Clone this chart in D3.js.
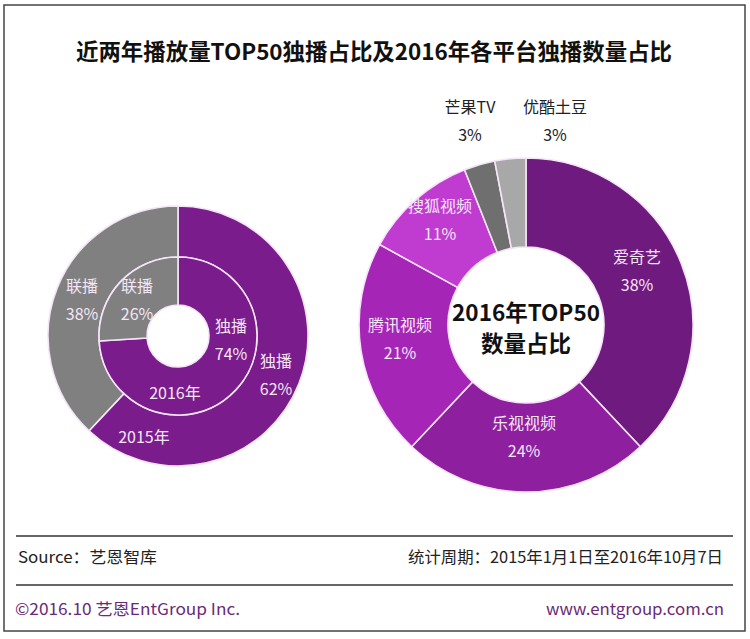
<!DOCTYPE html>
<html>
<head>
<meta charset="utf-8">
<script src="https://cdn.jsdelivr.net/npm/d3@7"></script>
<style>
  html, body { margin: 0; padding: 0; background: #fff; }
  svg text { font-family: "Noto Sans CJK SC", "Noto Sans", sans-serif; }
</style>
</head>
<body>
<div id="chart"></div>
<script>
// data
var typeLabels = ["独播", "联播"],
    share2015 = [62, 38],
    share2016 = [74, 26],
    platforms = ["爱奇艺", "乐视视频", "腾讯视频", "搜狐视频", "芒果TV", "优酷土豆"],
    platformShare = [38, 24, 21, 11, 3, 3];

var w = 750, h = 639;

var typeColors = ["#7a1c8b", "#808080"],
    platColors = ["#6f1a7e", "#8e1f9f", "#a526b6", "#c03bd0", "#6f6f6f", "#a8a8a8"];

var svg = d3.select("#chart").append("svg")
    .attr("width", w)
    .attr("height", h);

// frame
svg.append("rect")
    .attr("x", 4).attr("y", 5)
    .attr("width", 741).attr("height", 626)
    .attr("fill", "none")
    .attr("stroke", "#444")
    .attr("stroke-width", 1.5);

svg.append("text")
    .attr("x", 374).attr("y", 60)
    .attr("text-anchor", "middle")
    .attr("font-size", 22.5)
    .attr("font-weight", "bold")
    .attr("fill", "#111")
    .attr("textLength", 596)
    .attr("lengthAdjust", "spacingAndGlyphs")
    .text("近两年播放量TOP50独播占比及2016年各平台独播数量占比");

var pie = d3.pie().sort(null).value(function(d) { return d; });

// left: two rings, 2015 outside, 2016 inside
var left = svg.append("g").attr("transform", "translate(178,336)");

function ring(g, values, r0, r1, colors) {
    var arc = d3.arc().innerRadius(r0).outerRadius(r1);
    g.selectAll(null)
        .data(pie(values))
        .enter().append("path")
        .attr("d", arc)
        .attr("fill", function(d, i) { return colors[i]; })
        .attr("stroke", "#f6e4f8")
        .attr("stroke-width", 1.6);
    return arc;
}

ring(left, share2015, 79, 130, typeColors);
ring(left, share2016, 31, 79, typeColors);

var labelColor = "#f4e6f6";

function twoLine(g, x, y, a, b, size, color) {
    var t = g.append("text")
        .attr("text-anchor", "middle")
        .attr("font-size", size)
        .attr("fill", color);
    t.append("tspan").attr("x", x).attr("y", y).text(a);
    t.append("tspan").attr("x", x).attr("y", y + 28).text(b);
}

// label spots (relative to centre)
var outerSpots = [[98, 31], [-96, -44]],
    innerSpots = [[53, -4], [-41, -44]];

share2015.forEach(function(v, i) {
    twoLine(left, outerSpots[i][0], outerSpots[i][1], typeLabels[i], v + "%", 16, labelColor);
});
share2016.forEach(function(v, i) {
    twoLine(left, innerSpots[i][0], innerSpots[i][1], typeLabels[i], v + "%", 16, labelColor);
});

left.append("text").attr("x", -3).attr("y", 63)
    .attr("text-anchor", "middle").attr("font-size", 16).attr("fill", labelColor)
    .text("2016年");
left.append("text").attr("x", -34).attr("y", 107)
    .attr("text-anchor", "middle").attr("font-size", 16).attr("fill", labelColor)
    .text("2015年");

// right: platforms
var right = svg.append("g").attr("transform", "translate(526,325)");
var platArc = d3.arc().innerRadius(78).outerRadius(167);
var platPie = pie(platformShare);

right.selectAll(null)
    .data(platPie)
    .enter().append("path")
    .attr("d", platArc)
    .attr("fill", function(d, i) { return platColors[i]; })
    .attr("stroke", "#f6e4f8")
    .attr("stroke-width", 1.6);

var platSpots = [[111, -62], [-2, 104], [-126, 6], [-86, -113], [-56, -212], [29, -212]];

platPie.forEach(function(d, i) {
    var inside = i < 4;
    twoLine(right, platSpots[i][0], platSpots[i][1], platforms[i], platformShare[i] + "%",
        16, inside ? labelColor : "#222");
});

var centre = right.append("text")
    .attr("text-anchor", "middle")
    .attr("font-size", 22.5)
    .attr("font-weight", "bold")
    .attr("fill", "#111");
centre.append("tspan").attr("x", 0).attr("y", -4).text("2016年TOP50");
centre.append("tspan").attr("x", 0).attr("y", 27).text("数量占比");

// footer
[536, 585].forEach(function(y) {
    svg.append("line")
        .attr("x1", 16).attr("x2", 733)
        .attr("y1", y).attr("y2", y)
        .attr("stroke", "#333").attr("stroke-width", 1.5);
});

svg.append("text").attr("x", 18).attr("y", 563)
    .attr("font-size", 16).attr("fill", "#222")
    .attr("textLength", 139).attr("lengthAdjust", "spacingAndGlyphs")
    .text("Source：艺恩智库");
svg.append("text").attr("x", 723).attr("y", 563)
    .attr("text-anchor", "end").attr("font-size", 16).attr("fill", "#222")
    .attr("textLength", 315).attr("lengthAdjust", "spacingAndGlyphs")
    .text("统计周期：2015年1月1日至2016年10月7日");

svg.append("text").attr("x", 15).attr("y", 615)
    .attr("font-size", 16).attr("fill", "#6a2a78")
    .attr("textLength", 225).attr("lengthAdjust", "spacingAndGlyphs")
    .text("©2016.10  艺恩EntGroup Inc.");
svg.append("text").attr("x", 724).attr("y", 615)
    .attr("text-anchor", "end").attr("font-size", 16).attr("fill", "#6a2a78")
    .attr("textLength", 178).attr("lengthAdjust", "spacingAndGlyphs")
    .text("www.entgroup.com.cn");
</script>
</body>
</html>
